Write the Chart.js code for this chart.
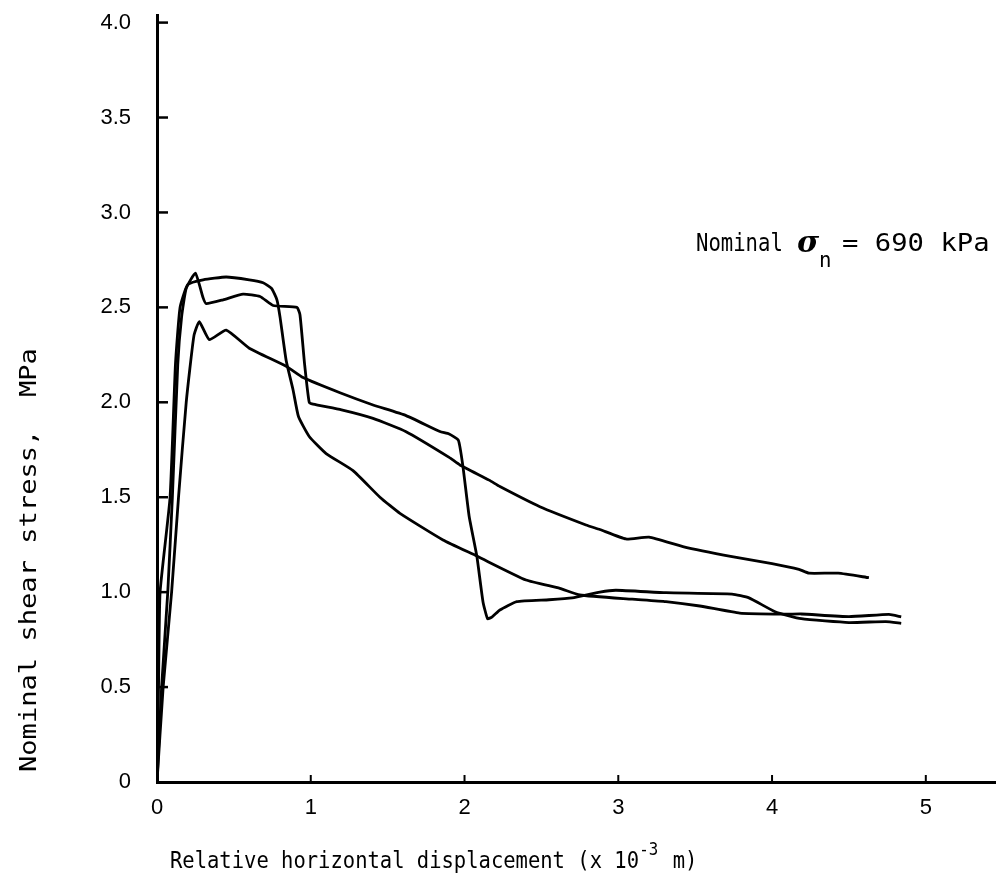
<!DOCTYPE html>
<html>
<head>
<meta charset="utf-8">
<script src="https://cdn.jsdelivr.net/npm/chart.js@4.4.1/dist/chart.umd.min.js"></script>
<style>
  html, body { margin: 0; padding: 0; background: #fff; }
  #wrap { width: 1001px; height: 894px; position: relative; }
</style>
</head>
<body>
<div id="wrap"><canvas id="c" width="1001" height="894"></canvas></div>
<script>
// ---- data ----
const xTickValues = [0, 1, 2, 3, 4, 5];
const xTickLabels = ['0', '1', '2', '3', '4', '5'];
const yTickValues = [0, 0.5, 1.0, 1.5, 2.0, 2.5, 3.0, 3.5, 4.0];
const yTickLabels = ['0', '0.5', '1.0', '1.5', '2.0', '2.5', '3.0', '3.5', '4.0'];

const xTitle = 'Relative horizontal displacement (x 10';
const xTitleExp = '-3';
const xTitleEnd = ' m)';
const yTitle = 'Nominal shear stress,  MPa';
const noteLeft = 'Nominal';
const noteSym = 'σ';
const noteSub = 'n';
const noteRight = '= 690 kPa';

// Test curve A: sharp peak, step down near 1 mm, long smooth decline
const curveA_x = [0, 0.03, 0.07, 0.10, 0.135, 0.16, 0.19, 0.25, 0.30, 0.32, 0.43, 0.56, 0.67, 0.755, 0.91, 0.93, 0.96, 0.99, 1.015, 1.20, 1.405, 1.62, 1.90, 1.97, 2.16, 2.23, 2.49, 2.79, 2.88, 3.05, 3.20, 3.42, 3.74, 4.00, 4.175, 4.24, 4.43, 4.63];
const curveA_y = [0, 0.5, 1.0, 1.5, 2.2, 2.45, 2.6, 2.68, 2.55, 2.52, 2.54, 2.57, 2.557, 2.51, 2.50, 2.46, 2.2, 2.0, 1.99, 1.96, 1.915, 1.845, 1.71, 1.67, 1.59, 1.556, 1.45, 1.354, 1.33, 1.28, 1.29, 1.24, 1.187, 1.15, 1.12, 1.10, 1.10, 1.076];

// Test curve B: highest plateau, drop near 0.8 mm
const curveB_x = [0, 0.01, 0.02, 0.085, 0.12, 0.15, 0.2, 0.3, 0.45, 0.60, 0.69, 0.745, 0.78, 0.80, 0.84, 0.885, 0.92, 0.99, 1.10, 1.275, 1.45, 1.58, 1.86, 2.08, 2.40, 2.62, 2.75, 3.09, 3.31, 3.53, 3.79, 4.09, 4.19, 4.5, 4.76, 4.84];
const curveB_y = [0, 0.5, 1.0, 1.5, 2.2, 2.5, 2.62, 2.645, 2.66, 2.645, 2.63, 2.60, 2.54, 2.45, 2.22, 2.065, 1.925, 1.82, 1.73, 1.64, 1.50, 1.415, 1.275, 1.19, 1.064, 1.02, 0.985, 0.963, 0.95, 0.927, 0.89, 0.884, 0.885, 0.871, 0.883, 0.87];

// Test curve C: lowest peak, drop near 2 mm
const curveC_x = [0, 0.04, 0.095, 0.14, 0.19, 0.24, 0.275, 0.34, 0.45, 0.60, 0.84, 0.95, 1.19, 1.405, 1.62, 1.84, 1.90, 1.96, 1.99, 2.03, 2.08, 2.12, 2.15, 2.18, 2.23, 2.34, 2.55, 2.70, 2.88, 2.985, 3.31, 3.74, 3.85, 4.02, 4.19, 4.5, 4.74, 4.84];
const curveC_y = [0, 0.5, 1.0, 1.5, 2.0, 2.35, 2.425, 2.33, 2.38, 2.285, 2.19, 2.13, 2.05, 1.986, 1.93, 1.846, 1.833, 1.80, 1.66, 1.40, 1.19, 0.95, 0.86, 0.87, 0.906, 0.95, 0.96, 0.97, 1.0, 1.01, 0.997, 0.99, 0.97, 0.897, 0.86, 0.84, 0.845, 0.836];

const toPts = (xs, ys) => xs.map((x, i) => ({ x: x, y: ys[i] }));

const INK = '#000';
const MONO = '"DejaVu Sans Mono"';

// draw monospace text with a given character pitch and cap height
function drawMono(ctx, text, x, y, pitch, capH) {
  const f = pitch / 0.602;
  const sy = capH / (0.729 * f);
  ctx.save();
  ctx.translate(x, y);
  ctx.scale(1, sy);
  ctx.font = f.toFixed(2) + 'px ' + MONO;
  ctx.textAlign = 'left';
  ctx.textBaseline = 'alphabetic';
  ctx.fillText(text, 0, 0);
  ctx.restore();
  return text.length * pitch;
}

const decorPlugin = {
  id: 'decor',
  afterDraw(chart) {
    const ctx = chart.ctx;
    const xs = chart.scales.x, ys = chart.scales.y;
    const area = chart.chartArea;
    ctx.save();
    ctx.strokeStyle = INK;
    ctx.fillStyle = INK;
    // inward tick marks
    ctx.lineWidth = 2.5;
    yTickValues.forEach(v => {
      if (v === 0) return;
      const py = ys.getPixelForValue(v);
      ctx.beginPath(); ctx.moveTo(area.left, py); ctx.lineTo(area.left + 11, py); ctx.stroke();
    });
    ctx.lineWidth = 2;
    xTickValues.forEach(v => {
      if (v === 0) return;
      const px = xs.getPixelForValue(v);
      ctx.beginPath(); ctx.moveTo(px, area.bottom); ctx.lineTo(px, area.bottom - 7); ctx.stroke();
    });

    // x title
    let w = drawMono(ctx, xTitle, 170, 868, 12.35, 17);
    w += drawMono(ctx, xTitleExp, 170 + w, 855, 9.5, 13);
    drawMono(ctx, xTitleEnd, 170 + w + 2, 868, 12.35, 17);

    // y title (rotated)
    ctx.save();
    ctx.translate(36, 772);
    ctx.rotate(-Math.PI / 2);
    drawMono(ctx, yTitle, 0, 0, 16.3, 17);
    ctx.restore();

    // annotation
    drawMono(ctx, noteLeft, 696, 251, 12.4, 18);
    ctx.save();
    ctx.font = 'italic bold 30px "DejaVu Serif"';
    ctx.textAlign = 'left';
    ctx.textBaseline = 'alphabetic';
    ctx.fillText(noteSym, 797, 252);
    ctx.restore();
    drawMono(ctx, noteSub, 819, 267, 12.5, 16);
    drawMono(ctx, noteRight, 842, 251, 16.4, 18);

    ctx.restore();
  }
};

const lineStyle = {
  borderColor: INK,
  borderWidth: 2.8,
  pointRadius: 0,
  fill: false,
  tension: 0.15,
  showLine: true
};

new Chart(document.getElementById('c'), {
  type: 'scatter',
  data: {
    datasets: [
      Object.assign({ label: 'Test A', data: toPts(curveA_x, curveA_y) }, lineStyle),
      Object.assign({ label: 'Test B', data: toPts(curveB_x, curveB_y) }, lineStyle),
      Object.assign({ label: 'Test C', data: toPts(curveC_x, curveC_y) }, lineStyle)
    ]
  },
  options: {
    responsive: false,
    animation: false,
    layout: { padding: { top: 15, right: 6, left: 0, bottom: 0 } },
    plugins: { legend: { display: false }, tooltip: { enabled: false } },
    scales: {
      x: {
        type: 'linear',
        min: 0, max: 5.45,
        afterBuildTicks: s => { s.ticks = xTickValues.map(v => ({ value: v })); },
        afterFit: s => { s.height = 112; s.paddingLeft = 0; s.paddingRight = 0; },
        grid: { display: false, drawTicks: false },
        border: { display: true, color: INK, width: 3 },
        ticks: {
          padding: 13,
          color: INK,
          font: { family: '"Liberation Sans"', size: 22 },
          callback: (v, i) => xTickLabels[i]
        }
      },
      y: {
        type: 'linear',
        min: 0, max: 4.04,
        afterBuildTicks: s => { s.ticks = yTickValues.map(v => ({ value: v })); },
        afterFit: s => { s.width = 157; s.paddingTop = 0; s.paddingBottom = 0; },
        grid: { display: false, drawTicks: false },
        border: { display: true, color: INK, width: 3 },
        ticks: {
          padding: 26,
          color: INK,
          font: { family: '"Liberation Sans"', size: 22 },
          callback: (v, i) => yTickLabels[i]
        }
      }
    }
  },
  plugins: [decorPlugin]
});
</script>
</body>
</html>
